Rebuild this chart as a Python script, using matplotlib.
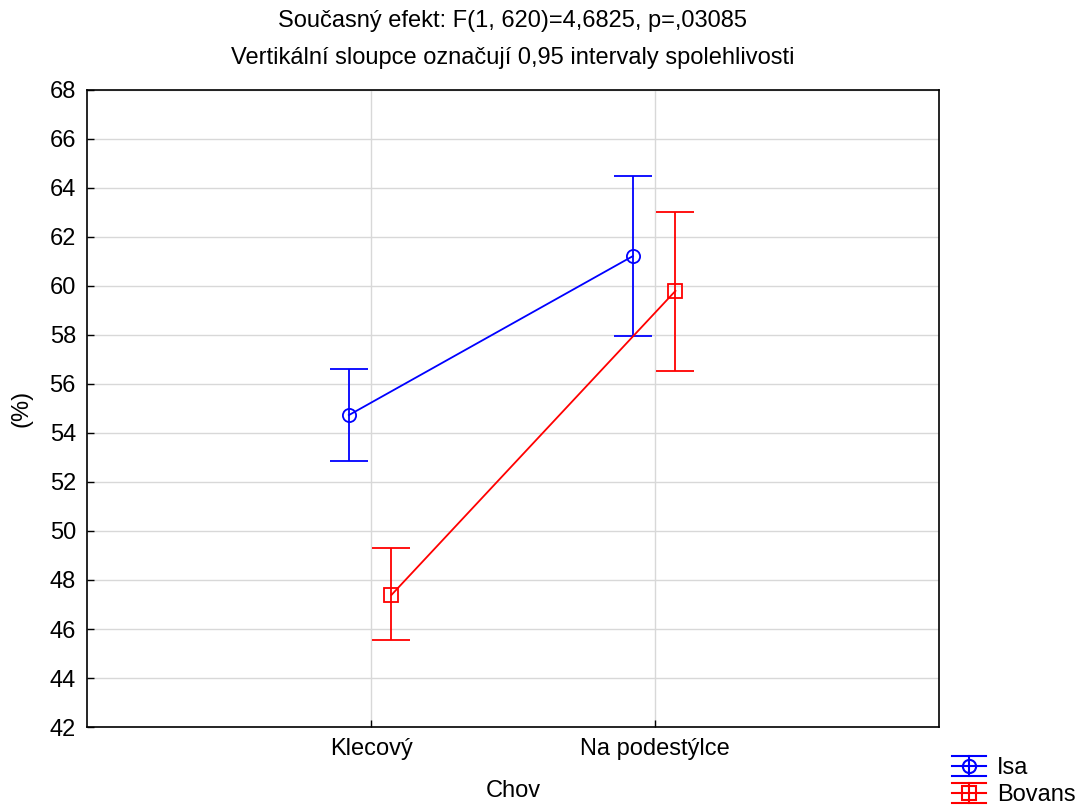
import matplotlib
matplotlib.use("Agg")
import matplotlib.pyplot as plt
from matplotlib.legend_handler import HandlerBase
from matplotlib.container import ErrorbarContainer
from matplotlib.lines import Line2D
import numpy as np

plt.rcParams['font.family'] = ['Liberation Sans', 'DejaVu Sans']

categories = ["Klecový", "Na podestýlce"]
series = ["Isa", "Bovans"]
means = {"Isa": [54.73, 61.22], "Bovans": [47.39, 59.80]}
upper = {"Isa": [56.60, 64.49], "Bovans": [49.29, 63.03]}
lower = {"Isa": [52.86, 57.96], "Bovans": [45.55, 56.54]}
colors = {"Isa": "#0000ff", "Bovans": "#ff0000"}
markers = {"Isa": "o", "Bovans": "s"}
offsets = {"Isa": -0.078, "Bovans": 0.072}
yticks = list(range(42, 69, 2))

FS = 17


class ErrHandler(HandlerBase):
    def create_artists(self, legend, orig_handle, xdescent, ydescent,
                       width, height, fontsize, trans):
        line = orig_handle[0]
        c = line.get_color()
        x0, x1 = -xdescent, -xdescent + width
        xm = (x0 + x1) / 2
        ym = -ydescent + height / 2
        dy = 0.43 * fontsize
        arts = []
        for yy in (ym - dy, ym, ym + dy):
            arts.append(Line2D([x0, x1], [yy, yy], color=c, lw=1.5, transform=trans))
        arts.append(Line2D([xm, xm], [ym - dy, ym + dy], color=c, lw=1.5, transform=trans))
        arts.append(Line2D([xm], [ym], marker=line.get_marker(), markersize=9.5,
                           markerfacecolor='none', markeredgecolor=c,
                           markeredgewidth=1.5, linestyle='none', transform=trans))
        return arts


fig = plt.figure(figsize=(10.79, 8.05), dpi=100)
ax = fig.add_axes([87/1079, 1-727/805, (939-87)/1079, (727-90)/805])

handles = []
for s in series:
    x = np.arange(1, len(categories)+1) + offsets[s]
    m = np.array(means[s])
    yerr = [m - np.array(lower[s]), np.array(upper[s]) - m]
    h = ax.errorbar(x, m, yerr=yerr, color=colors[s], marker=markers[s],
                    markerfacecolor='none', markeredgecolor=colors[s],
                    markersize=9.5, markeredgewidth=1.3, linewidth=1.3,
                    elinewidth=1.3, capsize=14, capthick=1.3, label=s, zorder=3)
    handles.append(h)

ax.set_xlim(0, 3)
ax.set_ylim(42, 68)
ax.set_xticks([1, 2])
ax.set_xticklabels(categories)
ax.set_yticks(yticks)
ax.grid(True, color="#d8d8d8", linewidth=1.0, zorder=0)
ax.set_axisbelow(True)
ax.tick_params(direction='in', labelsize=FS, length=5, width=1, pad=8)
for sp in ax.spines.values():
    sp.set_linewidth(1.2)
ax.set_xlabel("Chov", fontsize=FS, labelpad=14)
ax.set_ylabel("(%)", fontsize=FS, labelpad=12)
ax.set_title("Současný efekt: F(1, 620)=4,6825, p=,03085\nVertikální sloupce označují 0,95 intervaly spolehlivosti",
             fontsize=FS, linespacing=1.85, pad=19)

fig.legend(handles=handles, labels=series, loc='lower right',
           bbox_to_anchor=(1.012, -0.022), frameon=False, fontsize=FS,
           handlelength=1.45, handletextpad=0.45, labelspacing=0.2, borderpad=0.2,
           handler_map={ErrorbarContainer: ErrHandler()})

fig.savefig("out.png", dpi=100)
